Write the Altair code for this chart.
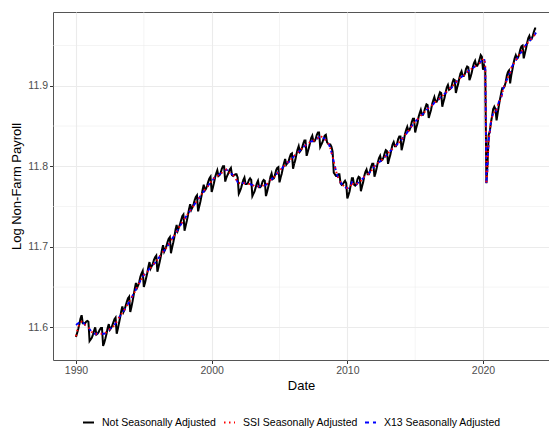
import altair as alt
import pandas as pd

start_year = 1990
series_names = ["Not Seasonally Adjusted", "SSI Seasonally Adjusted", "X13 Seasonally Adjusted"]
series_colors = ["#000000", "#FF0000", "#0000FF"]
series_dash = [[1, 0], [1.5, 3.5], [4, 4]]
series_width = [2.0, 1.8, 1.6]

# Monthly values, Jan 1990 .. Dec 2023 (one row per year)
nsa = [
    11.588, 11.593, 11.598, 11.604, 11.611, 11.615, 11.605, 11.605, 11.605, 11.607, 11.608, 11.607,  # 1990
    11.583, 11.585, 11.587, 11.591, 11.596, 11.600, 11.591, 11.592, 11.594, 11.597, 11.599, 11.599,  # 1991
    11.577, 11.581, 11.586, 11.592, 11.599, 11.604, 11.597, 11.599, 11.602, 11.606, 11.610, 11.612,  # 1992
    11.592, 11.598, 11.605, 11.612, 11.620, 11.626, 11.619, 11.622, 11.627, 11.632, 11.636, 11.638,  # 1993
    11.619, 11.625, 11.632, 11.640, 11.648, 11.655, 11.649, 11.652, 11.657, 11.663, 11.667, 11.670,  # 1994
    11.650, 11.655, 11.661, 11.667, 11.675, 11.681, 11.673, 11.676, 11.679, 11.684, 11.687, 11.689,  # 1995
    11.669, 11.675, 11.681, 11.688, 11.696, 11.702, 11.694, 11.697, 11.701, 11.706, 11.710, 11.712,  # 1996
    11.692, 11.699, 11.705, 11.712, 11.721, 11.727, 11.720, 11.724, 11.728, 11.733, 11.738, 11.740,  # 1997
    11.720, 11.726, 11.732, 11.739, 11.747, 11.753, 11.746, 11.749, 11.753, 11.758, 11.762, 11.764,  # 1998
    11.744, 11.750, 11.756, 11.763, 11.771, 11.777, 11.770, 11.772, 11.776, 11.781, 11.785, 11.787,  # 1999
    11.768, 11.773, 11.779, 11.786, 11.791, 11.795, 11.788, 11.789, 11.792, 11.797, 11.800, 11.800,  # 2000
    11.781, 11.786, 11.789, 11.792, 11.796, 11.798, 11.789, 11.788, 11.789, 11.790, 11.790, 11.786,  # 2001
    11.766, 11.769, 11.773, 11.778, 11.783, 11.786, 11.778, 11.778, 11.779, 11.783, 11.785, 11.783,  # 2002
    11.763, 11.766, 11.769, 11.774, 11.779, 11.782, 11.774, 11.774, 11.776, 11.781, 11.783, 11.782,  # 2003
    11.763, 11.768, 11.774, 11.780, 11.787, 11.791, 11.784, 11.785, 11.789, 11.795, 11.798, 11.799,  # 2004
    11.780, 11.786, 11.791, 11.798, 11.804, 11.809, 11.802, 11.804, 11.806, 11.811, 11.815, 11.816,  # 2005
    11.797, 11.803, 11.808, 11.815, 11.821, 11.825, 11.818, 11.820, 11.823, 11.828, 11.832, 11.832,  # 2006
    11.813, 11.818, 11.823, 11.829, 11.835, 11.838, 11.831, 11.831, 11.834, 11.839, 11.842, 11.842,  # 2007
    11.824, 11.827, 11.830, 11.834, 11.838, 11.839, 11.830, 11.828, 11.827, 11.827, 11.824, 11.818,  # 2008
    11.792, 11.790, 11.788, 11.788, 11.790, 11.790, 11.779, 11.777, 11.778, 11.780, 11.782, 11.779,  # 2009
    11.760, 11.764, 11.769, 11.777, 11.785, 11.785, 11.777, 11.776, 11.778, 11.784, 11.787, 11.786,  # 2010
    11.769, 11.775, 11.780, 11.788, 11.793, 11.796, 11.790, 11.790, 11.794, 11.799, 11.803, 11.803,  # 2011
    11.787, 11.792, 11.798, 11.805, 11.810, 11.813, 11.807, 11.808, 11.811, 11.816, 11.820, 11.819,  # 2012
    11.803, 11.809, 11.814, 11.821, 11.827, 11.830, 11.825, 11.825, 11.828, 11.834, 11.837, 11.837,  # 2013
    11.820, 11.826, 11.832, 11.840, 11.845, 11.849, 11.844, 11.845, 11.849, 11.855, 11.859, 11.859,  # 2014
    11.842, 11.848, 11.853, 11.861, 11.866, 11.870, 11.864, 11.864, 11.868, 11.873, 11.877, 11.876,  # 2015
    11.860, 11.865, 11.870, 11.877, 11.882, 11.886, 11.880, 11.880, 11.883, 11.888, 11.892, 11.891,  # 2016
    11.874, 11.880, 11.885, 11.892, 11.898, 11.901, 11.895, 11.896, 11.898, 11.904, 11.908, 11.907,  # 2017
    11.891, 11.897, 11.902, 11.909, 11.915, 11.918, 11.912, 11.912, 11.915, 11.921, 11.924, 11.923,  # 2018
    11.907, 11.911, 11.916, 11.923, 11.928, 11.931, 11.925, 11.925, 11.928, 11.933, 11.938, 11.936,  # 2019
    11.920, 11.925, 11.920, 11.779, 11.803, 11.839, 11.843, 11.854, 11.862, 11.871, 11.874, 11.871,  # 2020
    11.857, 11.866, 11.875, 11.883, 11.890, 11.897, 11.897, 11.899, 11.904, 11.912, 11.917, 11.919,  # 2021
    11.903, 11.913, 11.920, 11.928, 11.934, 11.938, 11.934, 11.935, 11.939, 11.945, 11.949, 11.950,  # 2022
    11.934, 11.940, 11.946, 11.953, 11.959, 11.962, 11.957, 11.958, 11.962, 11.967, 11.971, 11.971,  # 2023
]

x13 = [
    11.603, 11.604, 11.605, 11.606, 11.607, 11.607, 11.606, 11.605, 11.603, 11.602, 11.601, 11.600,  # 1990
    11.598, 11.596, 11.594, 11.593, 11.592, 11.592, 11.592, 11.592, 11.592, 11.592, 11.592, 11.592,  # 1991
    11.592, 11.592, 11.593, 11.594, 11.595, 11.596, 11.598, 11.599, 11.600, 11.601, 11.603, 11.605,  # 1992
    11.607, 11.609, 11.612, 11.614, 11.616, 11.618, 11.620, 11.622, 11.625, 11.627, 11.629, 11.631,  # 1993
    11.634, 11.636, 11.639, 11.642, 11.644, 11.647, 11.650, 11.652, 11.655, 11.658, 11.660, 11.663,  # 1994
    11.665, 11.666, 11.668, 11.669, 11.671, 11.673, 11.674, 11.676, 11.677, 11.679, 11.680, 11.682,  # 1995
    11.684, 11.686, 11.688, 11.690, 11.692, 11.694, 11.695, 11.697, 11.699, 11.701, 11.703, 11.705,  # 1996
    11.707, 11.710, 11.712, 11.714, 11.717, 11.719, 11.721, 11.724, 11.726, 11.728, 11.731, 11.733,  # 1997
    11.735, 11.737, 11.739, 11.741, 11.743, 11.745, 11.747, 11.749, 11.751, 11.753, 11.755, 11.757,  # 1998
    11.759, 11.761, 11.763, 11.765, 11.767, 11.769, 11.771, 11.772, 11.774, 11.776, 11.778, 11.780,  # 1999
    11.782, 11.783, 11.785, 11.787, 11.787, 11.788, 11.789, 11.790, 11.791, 11.792, 11.793, 11.794,  # 2000
    11.795, 11.796, 11.795, 11.793, 11.792, 11.791, 11.790, 11.789, 11.788, 11.785, 11.783, 11.780,  # 2001
    11.780, 11.779, 11.779, 11.779, 11.779, 11.779, 11.779, 11.779, 11.778, 11.778, 11.778, 11.777,  # 2002
    11.777, 11.776, 11.775, 11.775, 11.775, 11.775, 11.775, 11.775, 11.775, 11.776, 11.776, 11.776,  # 2003
    11.777, 11.778, 11.780, 11.781, 11.783, 11.784, 11.785, 11.786, 11.788, 11.790, 11.791, 11.793,  # 2004
    11.794, 11.796, 11.797, 11.799, 11.800, 11.802, 11.803, 11.805, 11.805, 11.806, 11.808, 11.810,  # 2005
    11.811, 11.813, 11.814, 11.816, 11.817, 11.818, 11.819, 11.821, 11.822, 11.823, 11.825, 11.826,  # 2006
    11.827, 11.828, 11.829, 11.830, 11.831, 11.831, 11.832, 11.832, 11.833, 11.834, 11.835, 11.836,  # 2007
    11.838, 11.837, 11.836, 11.835, 11.834, 11.832, 11.831, 11.829, 11.826, 11.822, 11.817, 11.812,  # 2008
    11.806, 11.800, 11.794, 11.789, 11.786, 11.783, 11.780, 11.778, 11.777, 11.775, 11.775, 11.773,  # 2009
    11.773, 11.773, 11.774, 11.776, 11.780, 11.778, 11.777, 11.777, 11.777, 11.779, 11.780, 11.781,  # 2010
    11.782, 11.784, 11.785, 11.787, 11.788, 11.789, 11.790, 11.791, 11.793, 11.794, 11.796, 11.798,  # 2011
    11.800, 11.801, 11.803, 11.804, 11.805, 11.806, 11.807, 11.809, 11.810, 11.811, 11.813, 11.814,  # 2012
    11.816, 11.818, 11.819, 11.820, 11.822, 11.823, 11.825, 11.826, 11.827, 11.829, 11.830, 11.832,  # 2013
    11.833, 11.835, 11.837, 11.839, 11.840, 11.842, 11.844, 11.846, 11.848, 11.850, 11.852, 11.854,  # 2014
    11.855, 11.857, 11.858, 11.860, 11.861, 11.863, 11.864, 11.865, 11.867, 11.868, 11.870, 11.871,  # 2015
    11.873, 11.874, 11.875, 11.876, 11.877, 11.879, 11.880, 11.881, 11.882, 11.883, 11.885, 11.886,  # 2016
    11.887, 11.889, 11.890, 11.891, 11.893, 11.894, 11.895, 11.897, 11.897, 11.899, 11.901, 11.902,  # 2017
    11.904, 11.906, 11.907, 11.908, 11.910, 11.911, 11.912, 11.913, 11.914, 11.916, 11.917, 11.918,  # 2018
    11.920, 11.920, 11.921, 11.922, 11.923, 11.924, 11.925, 11.926, 11.927, 11.928, 11.930, 11.931,  # 2019
    11.933, 11.934, 11.925, 11.778, 11.798, 11.832, 11.843, 11.855, 11.861, 11.866, 11.867, 11.866,  # 2020
    11.870, 11.875, 11.880, 11.882, 11.885, 11.890, 11.897, 11.900, 11.903, 11.907, 11.910, 11.914,  # 2021
    11.916, 11.922, 11.925, 11.927, 11.929, 11.931, 11.934, 11.936, 11.938, 11.940, 11.942, 11.945,  # 2022
    11.947, 11.949, 11.951, 11.952, 11.954, 11.955, 11.957, 11.959, 11.961, 11.962, 11.964, 11.966,  # 2023
]

# SSI differs visibly from X13 only in the first months; afterwards the two overlap
ssi_1990 = [11.589, 11.595, 11.600, 11.604, 11.606, 11.607, 11.606, 11.605, 11.603, 11.602, 11.601, 11.600]
ssi = ssi_1990 + x13[12:]

x_ticks = [1990, 2000, 2010, 2020]
x_minor = [1995, 2005, 2015]
y_ticks = [11.6, 11.7, 11.8, 11.9]
y_minor = [11.65, 11.75, 11.85, 11.95]
x_domain = [1988.305, 2024.865]
y_domain = [11.5594, 11.9916]

t = [start_year + i / 12 for i in range(len(nsa))]
frames = []
for name, vals in zip(series_names, [nsa, ssi, x13]):
    frames.append(pd.DataFrame({"t": t, "v": vals, "s": name}))

grid_col = "#EBEBEB"
txt_col = "#4D4D4D"
tick_col = "#333333"

x_enc = alt.X(
    "t:Q",
    scale=alt.Scale(domain=x_domain, nice=False, zero=False),
    axis=alt.Axis(
        values=x_ticks, format="d", title="Date", domain=False,
        grid=True, gridColor=grid_col, gridWidth=1.1,
        tickColor=tick_col, tickSize=3.5, tickWidth=1,
        labelFontSize=10.5, labelColor=txt_col, labelPadding=2,
        titleFontSize=13, titleFontWeight="normal", titleColor="#000000", titlePadding=3,
    ),
)
y_enc = alt.Y(
    "v:Q",
    scale=alt.Scale(domain=y_domain, nice=False, zero=False),
    axis=alt.Axis(
        values=y_ticks, format=".1f", title="Log Non-Farm Payroll", domain=False,
        grid=True, gridColor=grid_col, gridWidth=1.1,
        tickColor=tick_col, tickSize=3.5, tickWidth=1,
        labelFontSize=10.5, labelColor=txt_col, labelPadding=2,
        titleFontSize=13, titleFontWeight="normal", titleColor="#000000", titlePadding=4,
    ),
)

legend = alt.Legend(
    title=None, orient="none", legendX=29, legendY=404, direction="horizontal",
    symbolType="stroke", symbolSize=121, labelFontSize=10.5, labelColor="#000000",
    labelOffset=7, columnPadding=3, padding=0,
)
color_enc = alt.Color("s:N", scale=alt.Scale(domain=series_names, range=series_colors), legend=legend)
dash_enc = alt.StrokeDash("s:N", scale=alt.Scale(domain=series_names, range=series_dash), legend=legend)
width_enc = alt.StrokeWidth("s:N", scale=alt.Scale(domain=series_names, range=series_width), legend=legend)

minor_x = alt.Chart(pd.DataFrame({"t": x_minor})).mark_rule(color=grid_col, strokeWidth=0.55).encode(x=x_enc)
minor_y = alt.Chart(pd.DataFrame({"v": y_minor})).mark_rule(color=grid_col, strokeWidth=0.55).encode(y=y_enc)

def line_layer(df):
    return alt.Chart(df).mark_line(strokeCap="butt").encode(
        x=x_enc, y=y_enc, color=color_enc, strokeDash=dash_enc, strokeWidth=width_enc
    )

chart = alt.layer(
    minor_x, minor_y,
    line_layer(frames[0]), line_layer(frames[2]), line_layer(frames[1]),
).properties(
    width=496, height=348,
    autosize=alt.AutoSizeParams(type="none"),
    padding={"left": 45, "top": 4, "right": 0, "bottom": 68},
).configure(
    font="Liberation Sans", background="#FFFFFF"
).configure_view(
    stroke="#555555", strokeWidth=1
)

chart.save("out.html", embed_options={"renderer": "svg", "actions": False})
